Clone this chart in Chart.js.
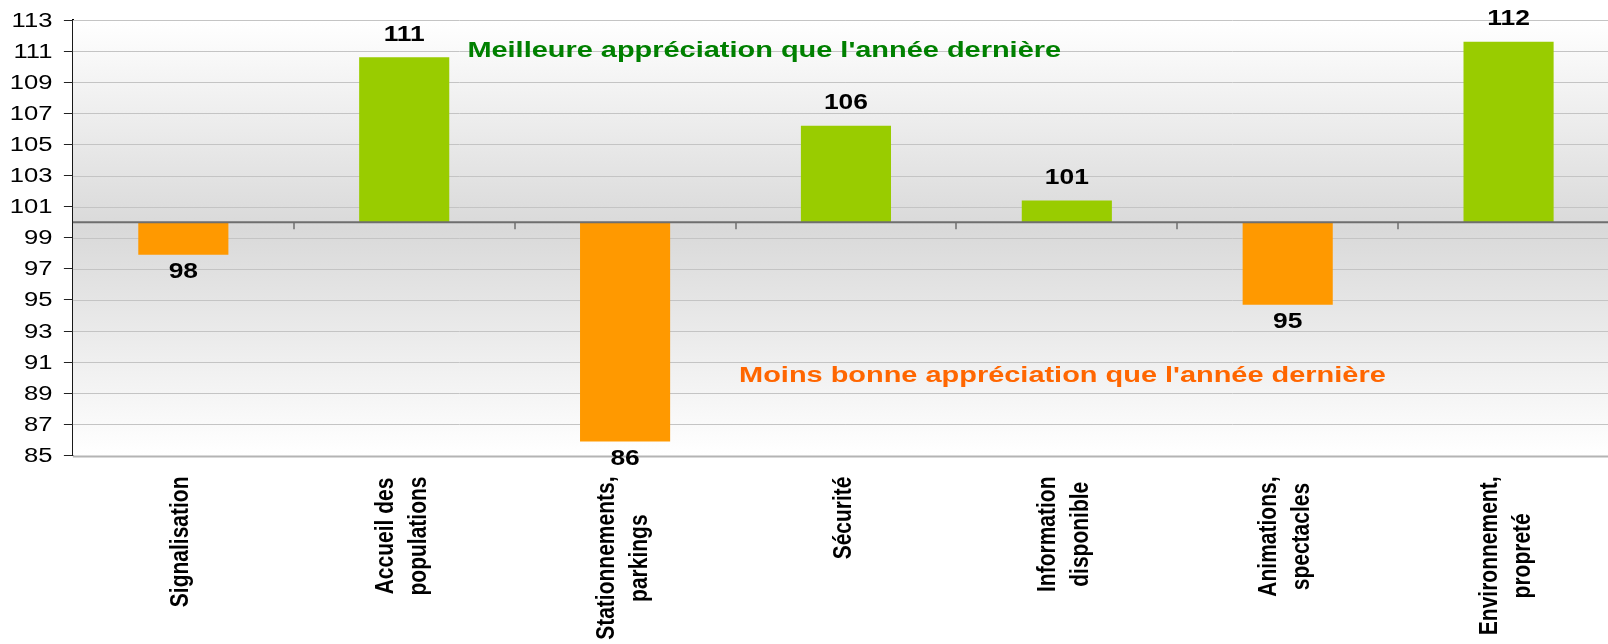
<!DOCTYPE html>
<html><head><meta charset="utf-8">
<script src="https://cdn.jsdelivr.net/npm/chart.js@4/dist/chart.umd.min.js"></script>
<style>
html,body{margin:0;padding:0;background:#fff;overflow:hidden}
#wrap{width:1619px;height:644px;position:relative}
</style></head>
<body><div id="wrap"><canvas id="c" width="1619" height="644"></canvas></div>
<script>
// ---- data ----
const categories = [
  ["Signalisation"],
  ["Accueil des", "populations"],
  ["Stationnements,", "parkings"],
  ["Sécurité"],
  ["Information", "disponible"],
  ["Animations,", "spectacles"],
  ["Environnement,", "propreté"]
];
const baseline = 100;
const values = [97.9, 110.6, 85.9, 106.2, 101.4, 94.7, 111.6];
const yTicks = [85, 87, 89, 91, 93, 95, 97, 99, 101, 103, 105, 107, 109, 111, 113];
const noteUp = "Meilleure appréciation que l'année dernière";
const noteDown = "Moins bonne appréciation que l'année dernière";

const GREEN = '#99cc00', ORANGE = '#ff9900';
const FONT = '"Liberation Sans", Arial, sans-serif';

function sText(ctx, text, x, y, sx, align, base) {
  ctx.save();
  ctx.translate(x, y);
  ctx.scale(sx, 1);
  ctx.textAlign = align;
  ctx.textBaseline = base;
  ctx.fillText(text, 0, 0);
  ctx.restore();
}

const deco = {
  id: 'deco',
  beforeDatasetsDraw(chart) {
    const {ctx, chartArea: a} = chart;
    const g = ctx.createLinearGradient(0, a.top, 0, a.bottom);
    g.addColorStop(0, '#ffffff');
    g.addColorStop(0.48, '#d9d9d9');
    g.addColorStop(1, '#ffffff');
    ctx.save();
    ctx.fillStyle = g;
    ctx.fillRect(a.left, a.top, a.right - a.left, a.bottom - a.top);
    const ys = chart.scales.y;
    yTicks.forEach(v => {
      const py = Math.round(ys.getPixelForValue(v)) + 0.5;
      ctx.strokeStyle = v === 85 ? '#b4b4b4' : '#c4c4c4';
      ctx.lineWidth = v === 85 ? 2 : 1;
      ctx.beginPath(); ctx.moveTo(a.left, py); ctx.lineTo(a.right, py); ctx.stroke();
    });
    ctx.restore();
  },
  afterDatasetsDraw(chart) {
    const {ctx, chartArea: a} = chart;
    const xs = chart.scales.x, ys = chart.scales.y;
    ctx.save();
    const by = ys.getPixelForValue(baseline);
    ctx.strokeStyle = '#6e6e6e';
    ctx.lineWidth = 2;
    ctx.beginPath(); ctx.moveTo(a.left, by); ctx.lineTo(a.right, by); ctx.stroke();
    ctx.lineWidth = 1.5;
    for (let i = 0; i < categories.length - 1; i++) {
      const px = Math.round(xs.getPixelForValue(i + 0.5));
      ctx.beginPath(); ctx.moveTo(px, by); ctx.lineTo(px, by + 7); ctx.stroke();
    }
    // value labels
    ctx.fillStyle = '#000';
    ctx.font = 'bold 22px ' + FONT;
    values.forEach((v, i) => {
      const px = xs.getPixelForValue(i);
      const py = ys.getPixelForValue(v);
      const txt = String(Math.round(v));
      if (v >= baseline) {
        sText(ctx, txt, px, py - 16.5, 1.2, 'center', 'alphabetic');
      } else {
        sText(ctx, txt, px, py + 23, 1.2, 'center', 'alphabetic');
      }
    });
    ctx.restore();
  },
  afterDraw(chart) {
    const {ctx, chartArea: a} = chart;
    const xs = chart.scales.x, ys = chart.scales.y;
    ctx.save();
    ctx.fillStyle = '#000';
    ctx.font = '20px ' + FONT;
    yTicks.forEach(v => {
      sText(ctx, String(v), a.left - 20.5, ys.getPixelForValue(v) + 1, 1.28, 'right', 'middle');
    });
    // category labels (rotated, centred lines)
    ctx.font = 'bold 21px ' + FONT;
    categories.forEach((lines, i) => {
      const cx = xs.getPixelForValue(i) - 2;
      const maxW = Math.max(...lines.map(l => ctx.measureText(l).width));
      const cy = a.bottom + 21 + maxW / 2;
      const lh = 33;
      lines.forEach((l, j) => {
        const off = (j - (lines.length - 1) / 2) * lh;
        ctx.save();
        ctx.translate(cx + off, cy);
        ctx.rotate(-Math.PI / 2);
        ctx.scale(1, 1.2);
        ctx.textAlign = 'center';
        ctx.textBaseline = 'middle';
        ctx.fillText(l, 0, 0);
        ctx.restore();
      });
    });
    // annotations
    ctx.font = 'bold 22px ' + FONT;
    ctx.fillStyle = '#008000';
    sText(ctx, noteUp, xs.getPixelForValue(2.63), ys.getPixelForValue(111.0), 1.315, 'center', 'middle');
    ctx.fillStyle = '#ff6600';
    sText(ctx, noteDown, xs.getPixelForValue(3.98), ys.getPixelForValue(90.1), 1.315, 'center', 'middle');
    ctx.restore();
  }
};

new Chart(document.getElementById('c'), {
  type: 'bar',
  data: {
    labels: categories,
    datasets: [{
      data: values.map(v => [baseline, v]),
      backgroundColor: values.map(v => v >= baseline ? GREEN : ORANGE),
      borderWidth: 0,
      barPercentage: 0.408,
      categoryPercentage: 1
    }]
  },
  options: {
    responsive: false,
    devicePixelRatio: 1,
    animation: false,
    layout: {padding: {top: 20, left: 0, right: 0, bottom: 0}},
    plugins: {legend: {display: false}, tooltip: {enabled: false}, title: {display: false}},
    scales: {
      x: {
        offset: true,
        grid: {display: false},
        border: {display: false},
        ticks: {display: false},
        afterFit(s) { s.height = 188.5; }
      },
      y: {
        min: 85, max: 113,
        afterBuildTicks(s) { s.ticks = yTicks.map(v => ({value: v})); },
        ticks: {display: false},
        grid: {color: 'rgba(0,0,0,0)', drawOnChartArea: true, drawTicks: true, tickLength: 9, tickColor: '#222', tickWidth: 1},
        border: {display: true, color: '#000', width: 2},
        afterFit(s) { s.width = 72.9; }
      }
    }
  },
  plugins: [deco]
});
</script>
</body></html>
